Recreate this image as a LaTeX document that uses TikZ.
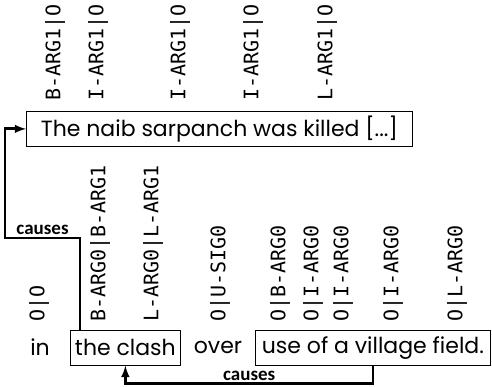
\documentclass[tikz,border=0pt]{standalone}
\usepackage{fontspec}
\setmainfont{Poppins}
\newfontfamily\tagfont{DejaVu Sans Mono}
\newfontfamily\relfont{Carlito}
\usetikzlibrary{arrows,positioning}

\tikzset{
  sent/.style={draw, line width=0.8pt, inner sep=0pt, minimum height=35pt,
    font=\fontsize{22}{22}\selectfont},
  word/.style={inner sep=0pt, font=\fontsize{22}{22}\selectfont},
  tag/.style={rotate=90, anchor=west, inner sep=0pt,
    font=\tagfont\fontsize{20}{20}\selectfont},
  rel/.style={inner sep=2pt, font=\relfont\bfseries\fontsize{19}{19}\selectfont},
  link/.style={line width=2.8pt, -latex}
}

\begin{document}
\begin{tikzpicture}[x=1pt, y=-1pt]
\useasboundingbox (0,0) rectangle (492,387);

% sentence 1
\node[sent, anchor=north west, minimum width=386pt] (kill) at (26,111)
  {The naib sarpanch was killed [...]};
\node[tag] (t1) at (55,101) {B-ARG1|O};
\node[tag] (t2) at (98,101) {I-ARG1|O};
\node[tag] (t3) at (180,101) {I-ARG1|O};
\node[tag] (t4) at (253,101) {I-ARG1|O};
\node[tag] (t5) at (327,101) {L-ARG1|O};

% sentence 2
\node[word] (in) at (40,347.5) {in};
\node[sent, anchor=north west, minimum width=110pt] (clash) at (70,330) {the clash};
\node[word] (over) at (218,347.5) {over};
\node[sent, anchor=north west, minimum width=235pt] (field) at (255,330)
  {use of a village field.};
\node[tag] (b1) at (39,322) {O|O};
\node[tag] (b2) at (100,322) {B-ARG0|B-ARG1};
\node[tag] (b3) at (153,322) {L-ARG0|L-ARG1};
\node[tag] (b4) at (220,322) {O|U-SIG0};
\node[tag] (b5) at (280,322) {O|B-ARG0};
\node[tag] (b6) at (313,322) {O|I-ARG0};
\node[tag] (b7) at (343,322) {O|I-ARG0};
\node[tag] (b8) at (393,322) {O|I-ARG0};
\node[tag] (b9) at (457,322) {O|L-ARG0};

% relations
\draw[link] ([xshift=10pt]clash.north west) |- node[rel, above, pos=0.75] {causes} (5,238)
  |- (kill.west);
\draw[link] (field.south) -- ++(0,18) -| node[rel, above, pos=0.25] {causes} (clash.south);
\end{tikzpicture}
\end{document}
